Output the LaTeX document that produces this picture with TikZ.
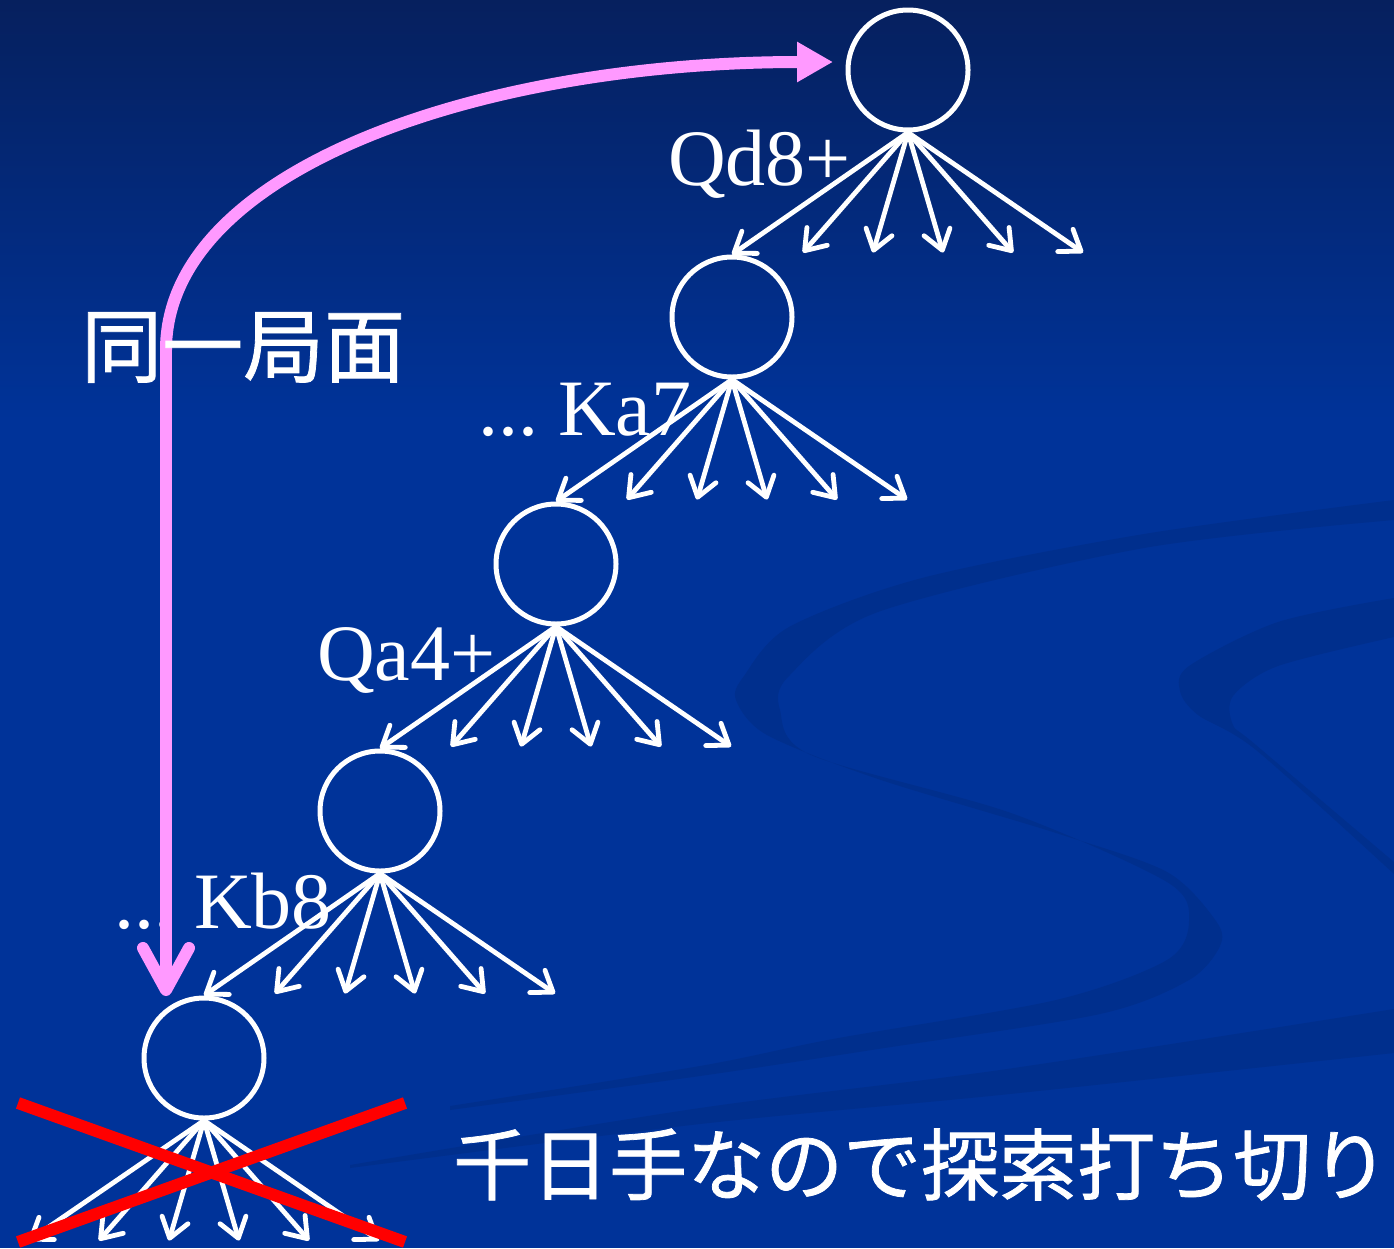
\documentclass[tikz,border=0pt]{standalone}
\usepackage{fontspec}
\setmainfont{Liberation Serif}
\newfontfamily\jpfont[FakeBold=1]{Noto Sans CJK JP}
\usetikzlibrary{arrows.meta,calc}
\definecolor{bgblue}{HTML}{003399}
\definecolor{bgtop}{HTML}{06205E}
\definecolor{swirl}{HTML}{002F8D}
\definecolor{pinkarrow}{HTML}{FF99FF}
\begin{document}
\begin{tikzpicture}[x=1pt,y=-1pt,
  state/.style={circle, draw=white, line width=5pt, minimum size=120pt, inner sep=0pt},
  move/.style={draw=white, line width=4.8pt, -{Straight Barb[length=19pt,width=27pt,round]}},
  lbl/.style={text=white, font=\fontsize{80}{96}\selectfont, inner sep=0pt, anchor=base west},
  jplbl/.style={text=white, font=\jpfont\fontsize{#1}{95}\selectfont, inner sep=0pt, anchor=base west},
  pinkcurve/.style={draw=pinkarrow, line width=12pt, -{Triangle[length=36pt,width=38pt]}},
  pinkdown/.style={draw=pinkarrow, line width=12pt, -{Straight Barb[length=42pt,width=46pt,round]}},
  cross/.style={draw=red, line width=12pt},
]
% background
\useasboundingbox (0,0) rectangle (1394,1248);
\fill[bgblue] (0,0) rectangle (1394,1248);
\shade[top color=bgtop, bottom color=bgblue] (0,0) rectangle (1394,420);
% swirls
\fill[swirl] plot[smooth] coordinates {(1394,500) (1144,534) (922,578) (789,627) (744,676) (736,700) (767,735) (878,779) (1056,833) (1167,872) (1216,921) (1220,946) (1189,980) (1100,1014) (878,1049) (700,1076) (450,1110)}
  -- plot[smooth] coordinates {(450,1106) (700,1066) (833,1039) (1056,1000) (1167,960) (1189,921) (1167,882) (1011,813) (811,755) (780,710) (789,676) (878,612) (1144,548) (1394,520)} -- cycle;
\fill[swirl] plot[smooth] coordinates {(1394,598) (1278,622) (1189,666) (1180,691) (1198,715) (1256,750) (1394,874)}
  -- plot[smooth] coordinates {(1394,862) (1256,745) (1233,725) (1233,696) (1278,666) (1394,637)} -- cycle;
\fill[swirl] plot[smooth] coordinates {(1394,1009) (1000,1070) (700,1108) (350,1165)}
  -- plot[smooth] coordinates {(350,1168) (700,1124) (1000,1095) (1394,1053)} -- cycle;

% nodes
\node[state] (n1) at (908,70) {};
\node[state] (n2) at (732,317) {};
\node[state] (n3) at (556,564) {};
\node[state] (n4) at (380,811) {};
\node[state] (n5) at (204,1058) {};

% moves
\foreach \i/\k in {1/2,2/3,3/4,4/5} {
  \draw[move] (n\i.south) -- (n\k.north);
}
\coordinate (e50) at ($(n5.south)+(-175,120)$);
\draw[move] (n5.south) -- (e50);
\foreach \i in {1,...,5} {
  \foreach \dx [count=\j] in {-105,-35,35,105,175} {
    \coordinate (e\i\j) at ($(n\i.south)+(\dx,120)$);
    \draw[move] (n\i.south) -- (e\i\j);
  }
}

% move labels
\node[lbl] (l1) at (668,185) {Qd8+};
\node[lbl] (l2) at (478,435) {...\ Ka7};
\node[lbl] (l3) at (317,680) {Qa4+};
\node[lbl] (l4) at (114,928) {...\ Kb8};

% pink arrow
\coordinate (seam) at (166,350);
\coordinate (topend) at (833,62);
\coordinate (botend) at (166,996);
\draw[pinkcurve] (seam) .. controls (166,170) and (480,62) .. (topend);
\draw[pinkdown] (seam) -- (botend);

\node[jplbl=81] (same) at (81,376) {同一局面};

% red cross
\coordinate (xa) at (18,1103);
\coordinate (xb) at (405,1242);
\coordinate (xc) at (18,1242);
\coordinate (xd) at (405,1103);
\draw[cross] (xa) -- (xb);
\draw[cross] (xc) -- (xd);

\node[jplbl=78] (cut) at (453,1194) {千日手なので探索打ち切り};
\end{tikzpicture}
\end{document}
